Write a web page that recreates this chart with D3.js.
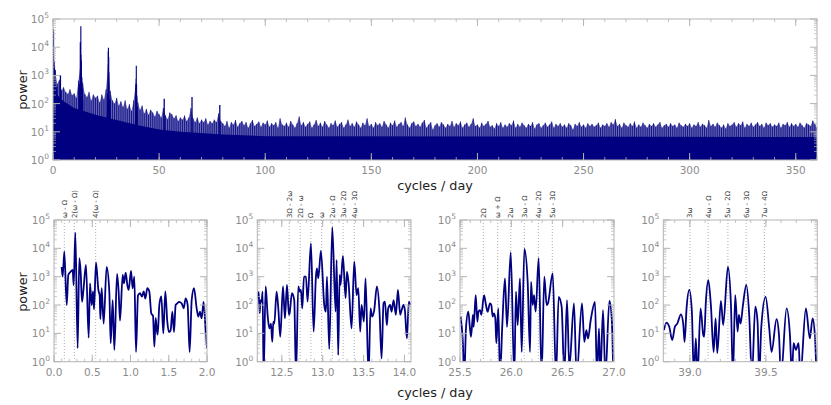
<!DOCTYPE html>
<html>
<head>
<meta charset="utf-8">
<script src="https://cdn.jsdelivr.net/npm/d3@7/dist/d3.min.js"></script>
<style>
  body { margin: 0; background: #fff; }
  text { font-family: "DejaVu Sans", sans-serif; }
</style>
</head>
<body>
<svg id="chart" width="831" height="405"></svg>
<script>
// full spectrum: envelope of the noise spikes, one value per cycle/day (0..360)
var fullPower = [
  2000, 1500, 500, 700, 300, 380, 260, 220, 320, 200,
  230, 160, 650, 3000, 550, 220, 170, 260, 130, 210,
  160, 190, 110, 210, 140, 320, 2500, 280, 130, 100,
  160, 85, 120, 75, 130, 65, 95, 55, 130, 500,
  110, 60, 85, 45, 65, 40, 60, 48, 35, 55,
  42, 32, 70, 38, 28, 48, 42, 30, 38, 24,
  32, 27, 38, 24, 32, 70, 30, 22, 32, 20,
  27, 22, 30, 18, 24, 20, 27, 22, 45, 24,
  20, 16, 24, 14, 22, 18, 26, 15, 20, 24,
  17, 22, 14, 20, 26, 16, 19, 23, 15, 21,
  18, 25, 15, 20, 17, 22, 14, 30, 18, 16,
  21, 15, 24, 18, 14, 20, 35, 17, 22, 15,
  19, 23, 14, 18, 26, 16, 21, 15, 24, 18,
  14, 20, 17, 25, 15, 19, 22, 14, 18, 27,
  16, 20, 15, 23, 18, 14, 21, 17, 30, 16,
  19, 14, 22, 17, 20, 15, 24, 18, 14, 21,
  17, 25, 15, 19, 22, 16, 32, 18, 14, 20,
  23, 16, 19, 15, 21, 26, 14, 18, 22, 12,
  17, 20, 15, 22, 18, 14, 19, 16, 24, 15,
  20, 17, 23, 14, 18, 21, 15, 19, 30, 16,
  18, 14, 21, 16, 19, 24, 15, 17, 13, 20,
  16, 22, 14, 18, 15, 20, 17, 25, 14, 19,
  15, 21, 17, 14, 19, 16, 22, 13, 18, 20,
  14, 17, 21, 15, 18, 23, 14, 19, 16, 20,
  15, 18, 14, 20, 17, 12, 19, 16, 22, 15,
  18, 14, 20, 16, 19, 15, 17, 21, 14, 18,
  16, 20, 15, 22, 18, 28, 16, 19, 14, 21,
  17, 15, 20, 16, 23, 14, 18, 15, 21, 17,
  14, 19, 16, 20, 15, 18, 22, 14, 17, 19,
  15, 20, 16, 18, 14, 21, 17, 15, 19, 16,
  20, 14, 18, 16, 22, 15, 19, 17, 14, 26,
  16, 19, 15, 21, 17, 14, 18, 13, 20, 16,
  18, 22, 15, 20, 17, 23, 14, 19, 16, 21,
  15, 18, 22, 16, 19, 14, 21, 17, 20, 15,
  18, 16, 21, 14, 19, 17, 22, 15, 20, 16,
  19, 15, 21, 17, 14, 20, 18, 16, 25, 19,
  14
];
// lower edge of the densely filled part of the noise
var floorFreq  = [0, 2, 5, 10, 20, 30, 40, 50, 60, 80, 100, 360];
var floorPower = [800, 200, 120, 70, 40, 26, 17, 12, 10, 8, 7, 6.5];
// isolated narrow peaks outside the zoom windows
var peakFreq  = [0.03, 0.06, 3.5, 52.4, 65.5, 78.6];
var peakPower = [45000, 20000, 1000, 150, 170, 90];

// zoom windows [cycles/day, power]
var win1 = [[0.10,2200],[0.113,1000],[0.135,7600],[0.166,100],[0.187,1150],[0.218,1500],[0.244,1750],[0.257,500],
  [0.279,36000],[0.309,3],[0.331,4500],[0.349,1400],[0.366,130],[0.383,300],[0.418,2600],[0.453,7],[0.471,580],
  [0.492,100],[0.51,300],[0.523,70],[0.549,3200],[0.58,340],[0.597,220],[0.606,32],[0.623,390],[0.649,22],
  [0.688,2200],[0.723,300],[0.741,4.5],[0.767,150],[0.789,2.6],[0.824,1250],[0.845,300],[0.863,28],[0.898,1150],
  [0.915,580],[0.937,1400],[0.959,500],[0.976,340],[1.007,1600],[1.028,390],[1.05,1000],[1.072,2.2],[1.098,220],
  [1.124,260],[1.15,200],[1.172,300],[1.194,170],[1.22,390],[1.246,300],[1.272,50],[1.294,42],[1.312,3.4],
  [1.329,35],[1.342,15],[1.355,9],[1.377,100],[1.403,200],[1.429,10],[1.455,300],[1.481,26],[1.503,11],[1.525,13],
  [1.547,58],[1.569,11],[1.59,100],[1.612,115],[1.634,130],[1.669,115],[1.695,76],[1.721,170],[1.747,100],
  [1.773,2.2],[1.8,150],[1.83,390],[1.865,76],[1.887,39],[1.908,58],[1.93,34],[1.956,130],[1.983,11],[2.0,3]];
var win2 = [[12.204,174],[12.216,295],[12.229,51],[12.241,150],[12.253,132],[12.265,295],[12.277,0.3],[12.302,450],
  [12.326,45],[12.347,15],[12.367,22],[12.383,5],[12.396,26],[12.408,22],[12.436,295],[12.457,76],[12.481,7.6],
  [12.514,450],[12.538,34],[12.563,510],[12.587,45],[12.595,51],[12.624,260],[12.652,150],[12.673,0.3],[12.701,450],
  [12.722,295],[12.734,340],[12.75,76],[12.771,1000],[12.795,1000],[12.815,132],[12.856,15000],[12.889,11.5],
  [12.917,1000],[12.929,1950],[12.946,870],[12.978,8100],[13.019,100],[13.039,58],[13.052,1000],[13.08,2.8],
  [13.117,55000],[13.158,58],[13.17,3900],[13.19,1.7],[13.207,1150],[13.219,510],[13.247,5400],[13.28,174],
  [13.296,1500],[13.317,580],[13.353,15],[13.386,3400],[13.414,225],[13.435,390],[13.459,11.5],[13.475,100],
  [13.504,26],[13.524,870],[13.561,0.3],[13.585,76],[13.606,39],[13.63,66],[13.663,450],[13.695,58],[13.72,1.3],
  [13.744,115],[13.761,132],[13.785,19.5],[13.801,76],[13.826,100],[13.842,58],[13.867,150],[13.895,45],
  [13.92,340],[13.948,45],[13.965,66],[13.989,100],[14.005,66],[14.03,6.6],[14.054,132],[14.07,100]];
var win3 = [[25.506,39],[25.526,6.6],[25.542,0.3],[25.558,15],[25.581,58],[25.597,15],[25.607,7.6],[25.62,26],
  [25.627,45],[25.633,17],[25.653,225],[25.669,26],[25.679,58],[25.695,66],[25.708,45],[25.734,225],[25.753,100],
  [25.769,58],[25.792,115],[25.805,100],[25.818,39],[25.831,51],[25.844,34],[25.854,4.5],[25.873,76],[25.89,0.3],
  [25.912,19.5],[25.938,870],[25.958,17],[25.994,7200],[26.029,0.3],[26.045,295],[26.062,19.5],[26.084,870],
  [26.101,2.2],[26.127,9500],[26.159,660],[26.182,2.2],[26.192,660],[26.208,100],[26.221,225],[26.237,58],
  [26.266,4500],[26.295,0.3],[26.321,1000],[26.344,100],[26.357,115],[26.403,1300],[26.435,0.3],[26.461,195],
  [26.49,87],[26.516,0.3],[26.542,150],[26.565,0.6],[26.61,115],[26.636,0.3],[26.688,115],[26.711,5],[26.731,13],
  [26.747,6.6],[26.773,29],[26.815,130],[26.834,0.3],[26.854,15],[26.867,0.3],[26.893,66],[26.916,0.3],
  [26.955,140],[26.977,39],[26.994,0.3]];
var win4 = [[38.829,13],[38.846,24],[38.864,17],[38.884,5.8],[38.901,17],[38.917,22],[38.941,47],[38.956,22],
  [38.965,5],[38.978,76],[38.996,340],[39.013,58],[39.026,0.3],[39.039,6.6],[39.05,0.3],[39.07,76],[39.088,8.7],
  [39.094,7.6],[39.105,130],[39.121,760],[39.138,100],[39.156,2.2],[39.169,34],[39.18,2],[39.204,140],
  [39.219,19.5],[39.25,2200],[39.27,100],[39.283,0.3],[39.298,225],[39.314,11.5],[39.322,45],[39.333,22],
  [39.349,100],[39.371,510],[39.39,45],[39.408,0.3],[39.43,87],[39.445,26],[39.456,0.3],[39.469,15],
  [39.498,195],[39.522,15],[39.537,2.2],[39.57,32],[39.586,8.7],[39.599,0.3],[39.636,76],[39.658,8.7],
  [39.671,0.3],[39.682,4.5],[39.697,2.6],[39.715,4.5],[39.726,0.3],[39.763,76],[39.789,6.6],[39.807,34],
  [39.822,8.7],[39.833,0.3]];

// combination frequencies marked in the zoom windows
var marks1 = [0.135, 0.266, 0.545];
var names1 = ["ω - Ω", "2(ω - Ω)", "4(ω - Ω)"];
var marks2 = [12.59, 12.725, 12.856, 12.987, 13.117, 13.25, 13.386];
var names2 = ["3Ω - 2ω", "2Ω - ω", "Ω", "ω", "2ω - Ω", "3ω - 2Ω", "4ω - 3Ω"];
var marks3 = [25.727, 25.867, 25.994, 26.126, 26.263, 26.399];
var names3 = ["2Ω", "ω + Ω", "2ω", "3ω - Ω", "4ω - 2Ω", "5ω - 3Ω"];
var marks4 = [39.0, 39.12, 39.25, 39.37, 39.49];
var names4 = ["3ω", "4ω - Ω", "5ω - 2Ω", "6ω - 3Ω", "7ω - 4Ω"];

var decades = [1, 10, 100, 1000, 10000, 100000];
var topTicks = [0, 50, 100, 150, 200, 250, 300, 350];

var navy = "#000080",
  frameColor = "#b4b4b4",
  labelColor = "#8c8c8c";

var svg = d3.select("#chart");

// frame, ticks and tick labels for one axes box
function drawAxes(g, x, y, majors, minorStep, fmt){
  var left = x.range()[0], right = x.range()[1],
    top = y.range()[1], bottom = y.range()[0];

  // minor ticks on x
  var dom = x.domain(), minors = [];
  for (var v = Math.ceil(dom[0]/minorStep - 1e-6)*minorStep; v <= dom[1] + 1e-9; v += minorStep){
    minors.push(v);
  }
  g.selectAll(".xminor").data(minors).enter().append("path")
   .attr("d", function(d){
     var px = x(d);
     return "M"+px+","+bottom+"v-3M"+px+","+top+"v3";
   })
   .attr("stroke", frameColor).attr("stroke-width", 0.8);

  g.selectAll(".xmajor").data(majors.filter(function(d){ return d >= dom[0] - 1e-9; })).enter().append("path")
   .attr("d", function(d){
     var px = x(d);
     return "M"+px+","+bottom+"v-7M"+px+","+top+"v7";
   })
   .attr("stroke", frameColor).attr("stroke-width", 1);

  // y ticks: decades and 2..9 minors on both sides
  var yMinor = [];
  for (var k = 0; k < 5; k++){
    for (var m = 2; m < 10; m++) yMinor.push(m*Math.pow(10, k));
  }
  g.selectAll(".yminor").data(yMinor).enter().append("path")
   .attr("d", function(d){
     var py = y(d);
     return "M"+left+","+py+"h3M"+right+","+py+"h-3";
   })
   .attr("stroke", frameColor).attr("stroke-width", 0.7);
  g.selectAll(".ymajor").data(decades).enter().append("path")
   .attr("d", function(d){
     var py = y(d);
     return "M"+left+","+py+"h7M"+right+","+py+"h-7";
   })
   .attr("stroke", frameColor).attr("stroke-width", 1);

  g.append("rect")
   .attr("x", left).attr("y", top)
   .attr("width", right-left).attr("height", bottom-top)
   .attr("fill", "none").attr("stroke", frameColor).attr("stroke-width", 1);

  g.selectAll(".xlab").data(majors).enter().append("text")
   .attr("x", function(d){ return x(d); })
   .attr("y", bottom + 14)
   .attr("text-anchor", "middle")
   .attr("font-size", 10.5)
   .attr("fill", labelColor)
   .text(function(d){ return fmt(d); });

  g.selectAll(".ylab").data(decades).enter().append("text")
   .attr("x", left - 4)
   .attr("y", function(d){ return y(d) + 4; })
   .attr("text-anchor", "end")
   .attr("font-size", 10.5)
   .attr("fill", labelColor)
   .each(function(d){
     var t = d3.select(this);
     t.append("tspan").text("10");
     t.append("tspan").attr("dy", -5).attr("font-size", 7.5).text(Math.round(Math.log10(d)));
   });
}

function addClip(id, x, y){
  svg.append("clipPath").attr("id", id)
     .append("rect")
     .attr("x", x.range()[0]).attr("y", y.range()[1])
     .attr("width", x.range()[1]-x.range()[0])
     .attr("height", y.range()[0]-y.range()[1]);
}

// ---------- full spectrum ----------
var xTop = d3.scaleLinear().domain([0, 360]).range([53, 817]),
  yTop = d3.scaleLog().domain([1, 1e5]).range([160, 19]);

addClip("clipTop", xTop, yTop);
var gTop = svg.append("g");
var plotTop = gTop.append("g").attr("clip-path", "url(#clipTop)");

// ragged band of noise spikes (lighter), then the dense part below it
plotTop.append("path")
  .datum(fullPower)
  .attr("d", d3.area()
    .x(function(d, i){ return xTop(i); })
    .y0(yTop.range()[0] + 2)
    .y1(function(d){ return yTop(d); }))
  .attr("fill", navy).attr("fill-opacity", 0.6);

plotTop.selectAll(".stem").data(fullPower).enter().append("line")
  .attr("x1", function(d, i){ return xTop(i); })
  .attr("x2", function(d, i){ return xTop(i); })
  .attr("y1", yTop.range()[0] + 2)
  .attr("y2", function(d){ return yTop(d); })
  .attr("stroke", navy).attr("stroke-width", 0.8);

var floorPts = floorFreq.map(function(f, i){ return [f, floorPower[i]]; });
plotTop.append("path")
  .datum(floorPts)
  .attr("d", d3.area()
    .x(function(d){ return xTop(d[0]); })
    .y0(yTop.range()[0] + 2)
    .y1(function(d){ return yTop(d[1]); }))
  .attr("fill", navy);

plotTop.selectAll(".peak").data(peakFreq).enter().append("line")
  .attr("x1", function(d){ return xTop(d); })
  .attr("x2", function(d){ return xTop(d); })
  .attr("y1", yTop.range()[0] + 2)
  .attr("y2", function(d, i){ return yTop(peakPower[i]); })
  .attr("stroke", navy).attr("stroke-width", 1.3);

var lineTop = d3.line()
  .x(function(d){ return xTop(d[0]); })
  .y(function(d){ return yTop(Math.max(d[1], 0.5)); });
[win1, win2, win3, win4].forEach(function(w){
  plotTop.append("path").datum(w)
    .attr("d", lineTop)
    .attr("fill", "none").attr("stroke", navy).attr("stroke-width", 1.1);
});

drawAxes(gTop, xTop, yTop, topTicks, 10, function(d){ return d; });

// ---------- zoom windows ----------
var panels = [
  {data: win1, marks: marks1, names: names1, dom: [0, 2.0], range: [54, 207], ticks: [0, 0.5, 1, 1.5, 2]},
  {data: win2, marks: marks2, names: names2, dom: [12.2, 14.08], range: [257.3, 411], ticks: [12.5, 13, 13.5, 14]},
  {data: win3, marks: marks3, names: names3, dom: [25.5, 27.0], range: [460, 614], ticks: [25.5, 26, 26.5, 27]},
  {data: win4, marks: marks4, names: names4, dom: [38.825, 39.838], range: [663.3, 817.3], ticks: [39, 39.5]}
];

panels.forEach(function(p, n){
  var x = d3.scaleLinear().domain(p.dom).range(p.range),
    y = d3.scaleLog().domain([1, 1e5]).range([361.7, 220]);
  var id = "clipZ" + n;
  addClip(id, x, y);
  var g = svg.append("g");

  // marked combination frequencies
  g.selectAll(".mark").data(p.marks).enter().append("line")
   .attr("x1", function(d){ return x(d); })
   .attr("x2", function(d){ return x(d); })
   .attr("y1", 220).attr("y2", 361.7)
   .attr("stroke", "#9a9a9a").attr("stroke-width", 0.8)
   .attr("stroke-dasharray", "1,2");

  g.selectAll(".markname").data(p.marks).enter().append("text")
   .attr("transform", function(d){ return "translate(" + (x(d) + 2.5) + ",218) rotate(-90)"; })
   .attr("font-size", 7)
   .attr("fill", "#444")
   .text(function(d, i){ return p.names[i]; });

  g.append("g").attr("clip-path", "url(#" + id + ")")
   .append("path").datum(p.data)
   .attr("d", d3.line()
     .x(function(d){ return x(d[0]); })
     .y(function(d){ return y(d[1]); })
     .curve(d3.curveMonotoneX))
   .attr("fill", "none").attr("stroke", navy).attr("stroke-width", 1.8);

  drawAxes(g, x, y, p.ticks, 0.1, d3.format(".1f"));
});

// axis titles
svg.append("text")
  .attr("x", 435).attr("y", 190)
  .attr("text-anchor", "middle").attr("font-size", 12.8).attr("fill", "#222")
  .text("cycles / day");
svg.append("text")
  .attr("x", 435).attr("y", 397)
  .attr("text-anchor", "middle").attr("font-size", 12.8).attr("fill", "#222")
  .text("cycles / day");
svg.append("text")
  .attr("transform", "translate(27,90) rotate(-90)")
  .attr("text-anchor", "middle").attr("font-size", 12.8).attr("fill", "#222")
  .text("power");
svg.append("text")
  .attr("transform", "translate(27,292) rotate(-90)")
  .attr("text-anchor", "middle").attr("font-size", 12.8).attr("fill", "#222")
  .text("power");
</script>
</body>
</html>
